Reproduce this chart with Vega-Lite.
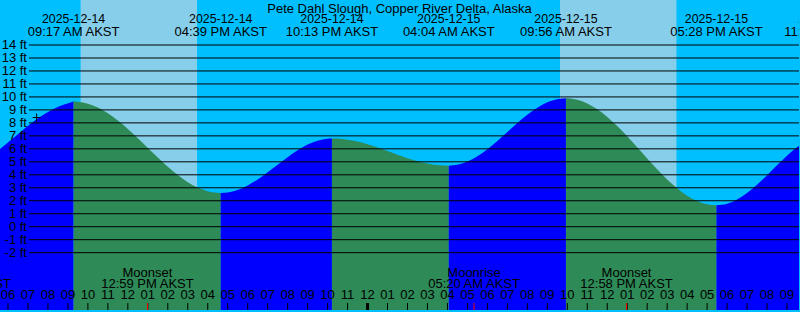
{
  "$schema": "https://vega.github.io/schema/vega-lite/v6.json",
  "width": 800,
  "height": 312,
  "autosize": {"type": "fit", "contains": "padding"},
  "padding": 0,
  "background": "#00bfff",
  "config": {
    "view": {"stroke": null},
    "axis": {"disable": true},
    "text": {"font": "Liberation Sans", "fontSize": 13, "color": "#000000"}
  },
  "datasets": {
    "days": [
      {"t0": 9.635, "t1": 15.465},
      {"t0": 33.635, "t1": 39.465}
    ],
    "tide": [
      {"t": 5.6, "h": 5.98, "phase": "rising", "seg": 1},
      {"t": 6.1, "h": 6.62, "phase": "rising", "seg": 1},
      {"t": 6.6, "h": 7.26, "phase": "rising", "seg": 1},
      {"t": 7.1, "h": 7.9, "phase": "rising", "seg": 1},
      {"t": 7.6, "h": 8.46, "phase": "rising", "seg": 1},
      {"t": 8.1, "h": 8.92, "phase": "rising", "seg": 1},
      {"t": 8.6, "h": 9.3, "phase": "rising", "seg": 1},
      {"t": 9.1, "h": 9.56, "phase": "rising", "seg": 1},
      {"t": 9.283, "h": 9.64, "phase": "rising", "seg": 1},
      {"t": 9.283, "h": 9.64, "phase": "falling", "seg": 2},
      {"t": 9.5, "h": 9.625, "phase": "falling", "seg": 2},
      {"t": 10, "h": 9.477, "phase": "falling", "seg": 2},
      {"t": 10.5, "h": 9.177, "phase": "falling", "seg": 2},
      {"t": 11, "h": 8.738, "phase": "falling", "seg": 2},
      {"t": 11.5, "h": 8.183, "phase": "falling", "seg": 2},
      {"t": 12, "h": 7.532, "phase": "falling", "seg": 2},
      {"t": 12.5, "h": 6.816, "phase": "falling", "seg": 2},
      {"t": 13, "h": 6.07, "phase": "falling", "seg": 2},
      {"t": 13.5, "h": 5.326, "phase": "falling", "seg": 2},
      {"t": 14, "h": 4.617, "phase": "falling", "seg": 2},
      {"t": 14.5, "h": 3.978, "phase": "falling", "seg": 2},
      {"t": 15, "h": 3.432, "phase": "falling", "seg": 2},
      {"t": 15.5, "h": 3.014, "phase": "falling", "seg": 2},
      {"t": 16, "h": 2.734, "phase": "falling", "seg": 2},
      {"t": 16.65, "h": 2.6, "phase": "falling", "seg": 2},
      {"t": 16.65, "h": 2.6, "phase": "rising", "seg": 3},
      {"t": 17, "h": 2.641, "phase": "rising", "seg": 3},
      {"t": 17.5, "h": 2.837, "phase": "rising", "seg": 3},
      {"t": 18, "h": 3.18, "phase": "rising", "seg": 3},
      {"t": 18.5, "h": 3.642, "phase": "rising", "seg": 3},
      {"t": 19, "h": 4.191, "phase": "rising", "seg": 3},
      {"t": 19.5, "h": 4.779, "phase": "rising", "seg": 3},
      {"t": 20, "h": 5.36, "phase": "rising", "seg": 3},
      {"t": 20.5, "h": 5.889, "phase": "rising", "seg": 3},
      {"t": 21, "h": 6.325, "phase": "rising", "seg": 3},
      {"t": 21.5, "h": 6.631, "phase": "rising", "seg": 3},
      {"t": 22, "h": 6.784, "phase": "rising", "seg": 3},
      {"t": 22.217, "h": 6.8, "phase": "rising", "seg": 3},
      {"t": 22.217, "h": 6.8, "phase": "falling", "seg": 4},
      {"t": 22.5, "h": 6.788, "phase": "falling", "seg": 4},
      {"t": 23, "h": 6.709, "phase": "falling", "seg": 4},
      {"t": 23.5, "h": 6.56, "phase": "falling", "seg": 4},
      {"t": 24, "h": 6.355, "phase": "falling", "seg": 4},
      {"t": 24.5, "h": 6.103, "phase": "falling", "seg": 4},
      {"t": 25, "h": 5.83, "phase": "falling", "seg": 4},
      {"t": 25.5, "h": 5.549, "phase": "falling", "seg": 4},
      {"t": 26, "h": 5.283, "phase": "falling", "seg": 4},
      {"t": 26.5, "h": 5.05, "phase": "falling", "seg": 4},
      {"t": 27, "h": 4.868, "phase": "falling", "seg": 4},
      {"t": 27.5, "h": 4.749, "phase": "falling", "seg": 4},
      {"t": 28.067, "h": 4.7, "phase": "falling", "seg": 4},
      {"t": 28.067, "h": 4.7, "phase": "rising", "seg": 5},
      {"t": 28.5, "h": 4.77, "phase": "rising", "seg": 5},
      {"t": 29, "h": 5.018, "phase": "rising", "seg": 5},
      {"t": 29.5, "h": 5.429, "phase": "rising", "seg": 5},
      {"t": 30, "h": 5.972, "phase": "rising", "seg": 5},
      {"t": 30.5, "h": 6.612, "phase": "rising", "seg": 5},
      {"t": 31, "h": 7.299, "phase": "rising", "seg": 5},
      {"t": 31.5, "h": 7.987, "phase": "rising", "seg": 5},
      {"t": 32, "h": 8.627, "phase": "rising", "seg": 5},
      {"t": 32.5, "h": 9.171, "phase": "rising", "seg": 5},
      {"t": 33, "h": 9.583, "phase": "rising", "seg": 5},
      {"t": 33.5, "h": 9.83, "phase": "rising", "seg": 5},
      {"t": 33.933, "h": 9.9, "phase": "rising", "seg": 5},
      {"t": 33.933, "h": 9.9, "phase": "falling", "seg": 6},
      {"t": 34, "h": 9.898, "phase": "falling", "seg": 6},
      {"t": 34.5, "h": 9.785, "phase": "falling", "seg": 6},
      {"t": 35, "h": 9.498, "phase": "falling", "seg": 6},
      {"t": 35.5, "h": 9.049, "phase": "falling", "seg": 6},
      {"t": 36, "h": 8.46, "phase": "falling", "seg": 6},
      {"t": 36.5, "h": 7.753, "phase": "falling", "seg": 6},
      {"t": 37, "h": 6.961, "phase": "falling", "seg": 6},
      {"t": 37.5, "h": 6.117, "phase": "falling", "seg": 6},
      {"t": 38, "h": 5.259, "phase": "falling", "seg": 6},
      {"t": 38.5, "h": 4.424, "phase": "falling", "seg": 6},
      {"t": 39, "h": 3.647, "phase": "falling", "seg": 6},
      {"t": 39.5, "h": 2.961, "phase": "falling", "seg": 6},
      {"t": 40, "h": 2.394, "phase": "falling", "seg": 6},
      {"t": 40.5, "h": 1.98, "phase": "falling", "seg": 6},
      {"t": 41, "h": 1.728, "phase": "falling", "seg": 6},
      {"t": 41.467, "h": 1.65, "phase": "falling", "seg": 6},
      {"t": 41.467, "h": 1.65, "phase": "rising", "seg": 7},
      {"t": 42, "h": 1.771, "phase": "rising", "seg": 7},
      {"t": 42.5, "h": 2.094, "phase": "rising", "seg": 7},
      {"t": 43, "h": 2.595, "phase": "rising", "seg": 7},
      {"t": 43.5, "h": 3.237, "phase": "rising", "seg": 7},
      {"t": 44, "h": 3.967, "phase": "rising", "seg": 7},
      {"t": 44.5, "h": 4.731, "phase": "rising", "seg": 7},
      {"t": 45, "h": 5.47, "phase": "rising", "seg": 7},
      {"t": 45.5, "h": 6.126, "phase": "rising", "seg": 7},
      {"t": 45.7, "h": 6.355, "phase": "rising", "seg": 7}
    ],
    "feet": [
      {"f": -2, "lab": "-2 ft"}, {"f": -1, "lab": "-1 ft"}, {"f": 0, "lab": "0 ft"},
      {"f": 1, "lab": "1 ft"}, {"f": 2, "lab": "2 ft"}, {"f": 3, "lab": "3 ft"},
      {"f": 4, "lab": "4 ft"}, {"f": 5, "lab": "5 ft"}, {"f": 6, "lab": "6 ft"},
      {"f": 7, "lab": "7 ft"}, {"f": 8, "lab": "8 ft"}, {"f": 9, "lab": "9 ft"},
      {"f": 10, "lab": "10 ft"}, {"f": 11, "lab": "11 ft"}, {"f": 12, "lab": "12 ft"},
      {"f": 13, "lab": "13 ft"}, {"f": 14, "lab": "14 ft"}
    ],
    "titleRow": [
      {"t": 25.6, "txt": "Pete Dahl Slough, Copper River Delta, Alaska"}
    ],
    "events": [
      {"t": 9.283, "date": "2025-12-14", "time": "09:17 AM AKST"},
      {"t": 16.65, "date": "2025-12-14", "time": "04:39 PM AKST"},
      {"t": 22.217, "date": "2025-12-14", "time": "10:13 PM AKST"},
      {"t": 28.067, "date": "2025-12-15", "time": "04:04 AM AKST"},
      {"t": 33.933, "date": "2025-12-15", "time": "09:56 AM AKST"},
      {"t": 41.467, "date": "2025-12-15", "time": "05:28 PM AKST"},
      {"t": 47.15, "date": "2025-12-15", "time": "11:06 PM AKST"}
    ],
    "moon": [
      {"t": 3.855, "name": "Moonrise", "time": "03:51 AM AKST"},
      {"t": 12.983, "name": "Moonset", "time": "12:59 PM AKST"},
      {"t": 29.333, "name": "Moonrise", "time": "05:20 AM AKST"},
      {"t": 36.967, "name": "Moonset", "time": "12:58 PM AKST"}
    ],
    "hours": [
      {"t": 6, "lab": "06"}, {"t": 7, "lab": "07"}, {"t": 8, "lab": "08"}, {"t": 9, "lab": "09"},
      {"t": 10, "lab": "10"}, {"t": 11, "lab": "11"}, {"t": 12, "lab": "12"}, {"t": 13, "lab": "01"},
      {"t": 14, "lab": "02"}, {"t": 15, "lab": "03"}, {"t": 16, "lab": "04"}, {"t": 17, "lab": "05"},
      {"t": 18, "lab": "06"}, {"t": 19, "lab": "07"}, {"t": 20, "lab": "08"}, {"t": 21, "lab": "09"},
      {"t": 22, "lab": "10"}, {"t": 23, "lab": "11"}, {"t": 24, "lab": "12"}, {"t": 25, "lab": "01"},
      {"t": 26, "lab": "02"}, {"t": 27, "lab": "03"}, {"t": 28, "lab": "04"}, {"t": 29, "lab": "05"},
      {"t": 30, "lab": "06"}, {"t": 31, "lab": "07"}, {"t": 32, "lab": "08"}, {"t": 33, "lab": "09"},
      {"t": 34, "lab": "10"}, {"t": 35, "lab": "11"}, {"t": 36, "lab": "12"}, {"t": 37, "lab": "01"},
      {"t": 38, "lab": "02"}, {"t": 39, "lab": "03"}, {"t": 40, "lab": "04"}, {"t": 41, "lab": "05"},
      {"t": 42, "lab": "06"}, {"t": 43, "lab": "07"}, {"t": 44, "lab": "08"}, {"t": 45, "lab": "09"}
    ],
    "midnight": [{"t": 24}],
    "now": [{"t": 7.435, "h": 8.41}]
  },
  "layer": [
    {
      "data": {"name": "days"},
      "mark": {"type": "rect", "color": "#87ceeb"},
      "encoding": {
        "x": {"field": "t0", "type": "quantitative", "scale": {"domain": [5.6, 45.6], "nice": false, "zero": false}, "axis": null},
        "x2": {"field": "t1"},
        "y": {"datum": -6.417, "type": "quantitative", "scale": {"domain": [-6.417, 17.468], "nice": false, "zero": false}, "axis": null},
        "y2": {"datum": 17.468}
      }
    },
    {
      "data": {"name": "tide"},
      "mark": {"type": "area", "interpolate": "monotone", "clip": true},
      "encoding": {
        "x": {"field": "t", "type": "quantitative", "axis": null},
        "y": {"field": "h", "type": "quantitative", "stack": null, "axis": null},
        "y2": {"datum": -6.417},
        "color": {"field": "phase", "type": "nominal", "scale": {"domain": ["rising", "falling"], "range": ["#0000ff", "#2e8b57"]}, "legend": null},
        "detail": {"field": "seg", "type": "nominal"}
      }
    },
    {
      "data": {"name": "feet"},
      "mark": {"type": "rule", "color": "#000000", "strokeWidth": 1},
      "encoding": {
        "x": {"datum": 7.05, "type": "quantitative"},
        "x2": {"datum": 45.6},
        "y": {"field": "f", "type": "quantitative"}
      }
    },
    {
      "data": {"name": "feet"},
      "mark": {"type": "text", "align": "right", "baseline": "middle"},
      "encoding": {
        "x": {"datum": 6.95, "type": "quantitative"},
        "y": {"field": "f", "type": "quantitative"},
        "text": {"field": "lab"}
      }
    },
    {
      "data": {"name": "titleRow"},
      "mark": {"type": "text", "align": "center", "baseline": "alphabetic"},
      "encoding": {
        "x": {"field": "t", "type": "quantitative"},
        "y": {"datum": 16.496, "type": "quantitative"},
        "text": {"field": "txt"}
      }
    },
    {
      "data": {"name": "events"},
      "mark": {"type": "text", "align": "center", "baseline": "alphabetic", "clip": true, "fontSize": 12.4},
      "encoding": {
        "x": {"field": "t", "type": "quantitative"},
        "y": {"datum": 15.684, "type": "quantitative"},
        "text": {"field": "date"}
      }
    },
    {
      "data": {"name": "events"},
      "mark": {"type": "text", "align": "center", "baseline": "alphabetic", "clip": true},
      "encoding": {
        "x": {"field": "t", "type": "quantitative"},
        "y": {"datum": 14.712, "type": "quantitative"},
        "text": {"field": "time"}
      }
    },
    {
      "data": {"name": "moon"},
      "mark": {"type": "text", "align": "center", "baseline": "alphabetic", "clip": true},
      "encoding": {
        "x": {"field": "t", "type": "quantitative"},
        "y": {"datum": -3.837, "type": "quantitative"},
        "text": {"field": "name"}
      }
    },
    {
      "data": {"name": "moon"},
      "mark": {"type": "text", "align": "center", "baseline": "alphabetic", "clip": true},
      "encoding": {
        "x": {"field": "t", "type": "quantitative"},
        "y": {"datum": -4.733, "type": "quantitative"},
        "text": {"field": "time"}
      }
    },
    {
      "data": {"name": "hours"},
      "mark": {"type": "rule", "color": "#000000", "strokeWidth": 1},
      "encoding": {
        "x": {"field": "t", "type": "quantitative"},
        "y": {"datum": -5.881, "type": "quantitative"},
        "y2": {"datum": -6.417}
      }
    },
    {
      "data": {"name": "hours"},
      "mark": {"type": "text", "align": "center", "baseline": "alphabetic", "clip": true},
      "encoding": {
        "x": {"field": "t", "type": "quantitative"},
        "y": {"datum": -5.552, "type": "quantitative"},
        "text": {"field": "lab"}
      }
    },
    {
      "data": {"name": "midnight"},
      "mark": {"type": "rule", "color": "#000000", "strokeWidth": 3},
      "encoding": {
        "x": {"field": "t", "type": "quantitative"},
        "y": {"datum": -5.881, "type": "quantitative"},
        "y2": {"datum": -6.417}
      }
    },
    {
      "data": {"name": "moon"},
      "mark": {"type": "rule", "color": "#ff0000", "strokeWidth": 1, "clip": true},
      "encoding": {
        "x": {"field": "t", "type": "quantitative"},
        "y": {"datum": -5.881, "type": "quantitative"},
        "y2": {"datum": -6.417}
      }
    },
    {
      "data": {"name": "now"},
      "mark": {"type": "point", "shape": "M-1,0L1,0M0,-1L0,1", "size": 64, "filled": false, "color": "#000000", "strokeWidth": 1, "opacity": 1},
      "encoding": {
        "x": {"field": "t", "type": "quantitative"},
        "y": {"field": "h", "type": "quantitative"}
      }
    }
  ]
}
